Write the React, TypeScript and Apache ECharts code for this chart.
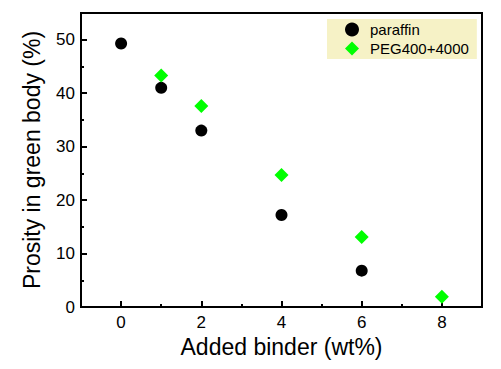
import React, { useEffect, useRef } from "react";
import * as echarts from "echarts";

const paraffinX = [0, 1, 2, 4, 6];
const paraffinY = [49.3, 41.0, 33.0, 17.2, 6.8];
const pegX = [1, 2, 4, 6, 8];
const pegY = [43.3, 37.6, 24.7, 13.1, 1.9];
const xMajorTicks = [0, 2, 4, 6, 8];
const yMajorTicks = [0, 10, 20, 30, 40, 50];

const FONT = "'Liberation Sans', Arial, sans-serif";

export default function App() {
  const ref = useRef<HTMLDivElement>(null);
  useEffect(() => {
    const chart = echarts.init(ref.current!, null, { renderer: "svg" });
    const xBase = { type: "value", min: -1, max: 9, gridIndex: 0 };
    const yBase = { type: "value", min: 0, max: 55, gridIndex: 0 };
    const tickStyle = { color: "#000", width: 2 };
    chart.setOption({
      animation: false,
      backgroundColor: "#fff",
      grid: {
        left: 81,
        top: 13,
        right: 19,
        bottom: 62,
        show: true,
        borderColor: "#000",
        borderWidth: 2,
        backgroundColor: "transparent",
      },
      legend: {
        left: 327,
        top: 19,
        orient: "vertical",
        backgroundColor: "#f6f2c6",
        padding: [3, 8, 3, 18],
        itemGap: 4,
        itemWidth: 14,
        itemHeight: 14,
        textStyle: { fontFamily: FONT, fontSize: 15, color: "#000", padding: [0, 0, 0, 6] },
        data: [
          { name: "paraffin", icon: "circle" },
          { name: "PEG400+4000", icon: "diamond" },
        ],
      },
      xAxis: [
        {
          ...xBase,
          interval: 1,
          name: "Added binder (wt%)",
          nameLocation: "middle",
          nameGap: 28,
          nameTextStyle: { fontFamily: FONT, fontSize: 23, color: "#000" },
          axisLine: { show: true, onZero: false, lineStyle: { color: "#000", width: 2 } },
          axisTick: { show: true, inside: true, length: 3, lineStyle: tickStyle },
          axisLabel: {
            show: true,
            fontFamily: FONT,
            fontSize: 17,
            color: "#000",
            margin: 7,
            formatter: (v: number) => (xMajorTicks.includes(v) ? String(v) : ""),
          },
          splitLine: { show: false },
        },
        {
          ...xBase,
          position: "bottom",
          axisLine: { show: false, onZero: false },
          axisTick: { show: true, inside: true, length: 6, customValues: xMajorTicks, lineStyle: tickStyle },
          axisLabel: { show: false },
          splitLine: { show: false },
        },
      ],
      yAxis: [
        {
          ...yBase,
          interval: 5,
          name: "Prosity in green body (%)",
          nameLocation: "middle",
          nameGap: 38,
          nameTextStyle: { fontFamily: FONT, fontSize: 23, color: "#000" },
          axisLine: { show: true, onZero: false, lineStyle: { color: "#000", width: 2 } },
          axisTick: { show: true, inside: true, length: 3, lineStyle: tickStyle },
          axisLabel: {
            show: true,
            fontFamily: FONT,
            fontSize: 17,
            color: "#000",
            margin: 6,
            formatter: (v: number) => (yMajorTicks.includes(v) ? String(v) : ""),
          },
          splitLine: { show: false },
        },
        {
          ...yBase,
          position: "left",
          axisLine: { show: false, onZero: false },
          axisTick: { show: true, inside: true, length: 6, customValues: yMajorTicks, lineStyle: tickStyle },
          axisLabel: { show: false },
          splitLine: { show: false },
        },
      ],
      series: [
        {
          name: "paraffin",
          type: "scatter",
          symbol: "circle",
          symbolSize: 12,
          itemStyle: { color: "#000", opacity: 1 },
          data: paraffinX.map((x, i) => [x, paraffinY[i]]),
        },
        {
          name: "PEG400+4000",
          type: "scatter",
          symbol: "diamond",
          symbolSize: 14,
          itemStyle: { color: "#00ff00", opacity: 1 },
          data: pegX.map((x, i) => [x, pegY[i]]),
        },
      ],
    });
    return () => chart.dispose();
  }, []);
  return <div ref={ref} style={{ width: 501, height: 369, position: "absolute", left: 0, top: 0 }} />;
}
